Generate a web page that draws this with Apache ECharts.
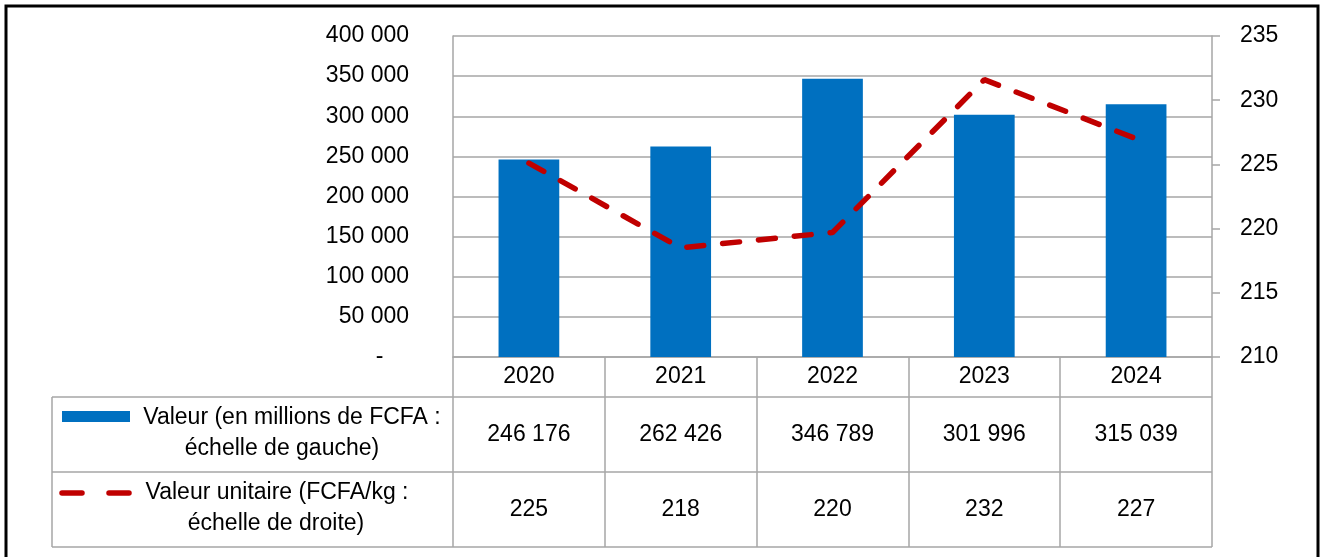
<!DOCTYPE html>
<html>
<head>
<meta charset="utf-8">
<script src="https://cdn.jsdelivr.net/npm/echarts@6/dist/echarts.min.js"></script>
<style>
  html, body { margin: 0; padding: 0; background: #fff; }
  #chart { width: 1321px; height: 557px; }
</style>
</head>
<body>
<div id="chart"></div>
<script>
// données
const years = ['2020', '2021', '2022', '2023', '2024']
const valeur = [246176, 262426, 346789, 301996, 315039]
const valeurUnitaire = [225.1, 218.5, 219.7, 231.6, 227.0]
const valeurUnitaireTable = [225, 218, 220, 232, 227]
const leftTicks = [0, 50000, 100000, 150000, 200000, 250000, 300000, 350000, 400000]
const rightTicks = [210, 215, 220, 225, 230, 235]
const legendBar = ['Valeur (en millions de FCFA :', 'échelle de gauche)']
const legendLine = ['Valeur unitaire (FCFA/kg :', 'échelle de droite)']

const FONT = 'Liberation Sans'
const FS = 23
const GRAY = '#a6a6a6'
const BLUE = '#0070C0'
const RED = '#C00000'

// 246176 -> "246 176"
function fmt(v) {
  return String(v).replace(/\B(?=(\d{3})+(?!\d))/g, ' ')
}

function legendText(txt, x, y) {
  return { type: 'text', x: x, y: y, style: { text: txt, font: FS + 'px "' + FONT + '"', fill: '#000', align: 'center', verticalAlign: 'middle' } }
}

const chart = echarts.init(document.getElementById('chart'))

const option = {
  animation: false,
  backgroundColor: '#fff',
  textStyle: { fontFamily: FONT },
  grid: { left: 453, right: 109, top: 36, bottom: 200 },
  xAxis: {
    type: 'category',
    data: years,
    boundaryGap: true,
    axisLine: { show: true, lineStyle: { color: GRAY, width: 1.5 } },
    axisTick: { show: true, inside: false, length: 190, interval: 0, lineStyle: { color: GRAY, width: 1.5 } },
    axisLabel: {
      margin: 0,
      interval: 0,
      formatter: function (val, idx) {
        return '{y|' + val + '}\n{v|' + fmt(valeur[idx]) + '}\n{u|' + valeurUnitaireTable[idx] + '}'
      },
      rich: {
        y: { fontSize: FS, fontFamily: FONT, color: '#000', lineHeight: 40, height: 40 },
        v: { fontSize: FS, fontFamily: FONT, color: '#000', lineHeight: 75, height: 75 },
        u: { fontSize: FS, fontFamily: FONT, color: '#000', lineHeight: 75, height: 75 }
      }
    }
  },
  yAxis: [
    {
      type: 'value',
      min: leftTicks[0],
      max: leftTicks[leftTicks.length - 1],
      interval: leftTicks[1] - leftTicks[0],
      axisLine: { show: true, lineStyle: { color: GRAY, width: 1.5 } },
      axisTick: { show: false },
      splitLine: { show: true, lineStyle: { color: GRAY, width: 1.5 } },
      axisLabel: {
        margin: 44,
        fontSize: FS,
        fontFamily: FONT,
        color: '#000',
        formatter: function (v) { return v === 0 ? '-    ' : fmt(v) }
      }
    },
    {
      type: 'value',
      min: rightTicks[0],
      max: rightTicks[rightTicks.length - 1],
      interval: rightTicks[1] - rightTicks[0],
      position: 'right',
      axisLine: { show: true, lineStyle: { color: GRAY, width: 1.5 } },
      axisTick: { show: true, inside: false, length: 8, lineStyle: { color: GRAY, width: 1.5 } },
      splitLine: { show: false },
      axisLabel: { margin: 28, fontSize: FS, fontFamily: FONT, color: '#000' }
    }
  ],
  series: [
    {
      name: legendBar.join(' '),
      type: 'bar',
      data: valeur,
      yAxisIndex: 0,
      barWidth: '40%',
      itemStyle: { color: BLUE }
    },
    {
      name: legendLine.join(' '),
      type: 'line',
      data: valeurUnitaire,
      yAxisIndex: 1,
      symbol: 'none',
      lineStyle: { color: RED, width: 5.5, type: [17, 19], cap: 'round' },
      z: 5
    }
  ],
  graphic: [
    // cadre extérieur
    { type: 'rect', shape: { x: 6, y: 6, width: 1312, height: 580 }, style: { fill: null, stroke: '#000', lineWidth: 3 }, silent: true },
    // lignes du tableau
    { type: 'line', shape: { x1: 52, y1: 397, x2: 1212, y2: 397 }, style: { stroke: GRAY, lineWidth: 1.5 } },
    { type: 'line', shape: { x1: 52, y1: 472, x2: 1212, y2: 472 }, style: { stroke: GRAY, lineWidth: 1.5 } },
    { type: 'line', shape: { x1: 52, y1: 547, x2: 1212, y2: 547 }, style: { stroke: GRAY, lineWidth: 1.5 } },
    { type: 'line', shape: { x1: 52, y1: 397, x2: 52, y2: 547 }, style: { stroke: GRAY, lineWidth: 1.5 } },
    // légende : barre
    { type: 'rect', shape: { x: 62, y: 411, width: 68, height: 11 }, style: { fill: BLUE } },
    legendText(legendBar[0], 292, 418),
    legendText(legendBar[1], 282, 449),
    // légende : ligne
    { type: 'line', shape: { x1: 62, y1: 493, x2: 82, y2: 493 }, style: { stroke: RED, lineWidth: 5.5, lineCap: 'round' } },
    { type: 'line', shape: { x1: 109, y1: 493, x2: 129, y2: 493 }, style: { stroke: RED, lineWidth: 5.5, lineCap: 'round' } },
    legendText(legendLine[0], 277, 493),
    legendText(legendLine[1], 276, 524)
  ]
}

chart.setOption(option)
</script>
</body>
</html>
